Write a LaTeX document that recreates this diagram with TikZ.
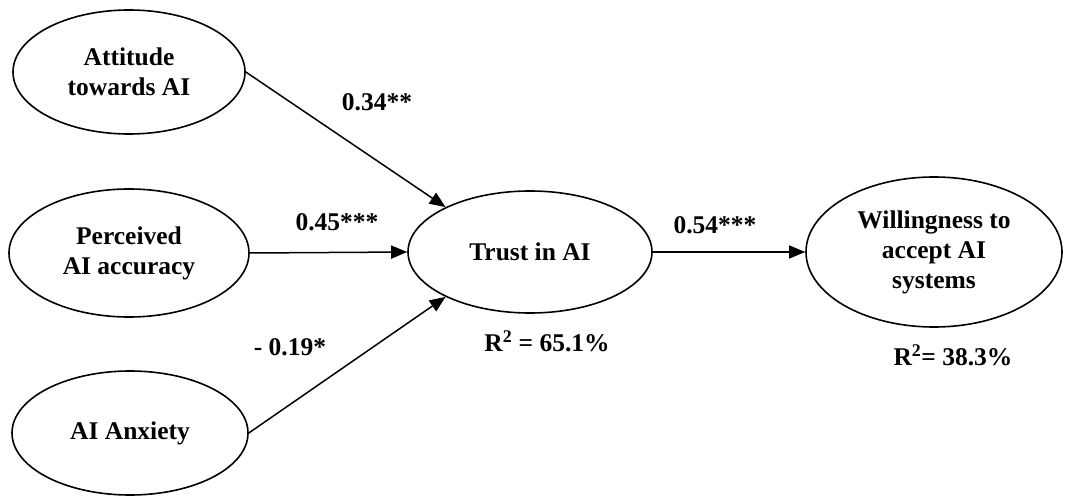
\documentclass[tikz,border=0pt]{standalone}
\usepackage{fontspec}
\setmainfont{Liberation Serif}
\usetikzlibrary{shapes.geometric,arrows.meta}
\tikzset{
  construct/.style={draw, line width=1.6pt, ellipse, inner sep=0pt, align=center,
    font=\bfseries\fontsize{25.5}{30}\selectfont},
  path/.style={line width=1.5pt, -{Triangle[length=16pt,width=13pt]}},
  coef/.style={font=\bfseries\fontsize{25.5}{30}\selectfont, inner sep=0pt},
}
\begin{document}
\begin{tikzpicture}[x=1pt,y=-1pt]
\useasboundingbox (0,0) rectangle (1065,497);
\node[construct, minimum width=232pt, minimum height=124pt] (att) at (129,72) {Attitude\\towards AI};
\node[construct, minimum width=240pt, minimum height=128pt] (per) at (129,253) {Perceived\\AI accuracy};
\node[construct, minimum width=236pt, minimum height=124pt] (anx) at (130,433) {AI Anxiety};
\node[construct, minimum width=244pt, minimum height=122pt] (trust) at (530,252) {Trust in AI};
\node[construct, minimum width=256pt, minimum height=150pt] (will) at (934,252) {Willingness to\\accept AI\\systems};
\draw[path] (att.east) -- (trust.152);
\draw[path] (per.east) -- (trust.west);
\draw[path] (anx.east) -- (trust.208);
\draw[path] (trust.east) -- (will.west);
\node[coef] (c1) at (377,102) {0.34**};
\node[coef] (c2) at (337,222) {0.45***};
\node[coef] (c3) at (290,347) {- 0.19*};
\node[coef] (c4) at (715,225) {0.54***};
\node[coef] (r1) at (547,341) {R\textsuperscript{2} = 65.1\%};
\node[coef] (r2) at (953,355) {R\textsuperscript{2}= 38.3\%};
\end{tikzpicture}
\end{document}
